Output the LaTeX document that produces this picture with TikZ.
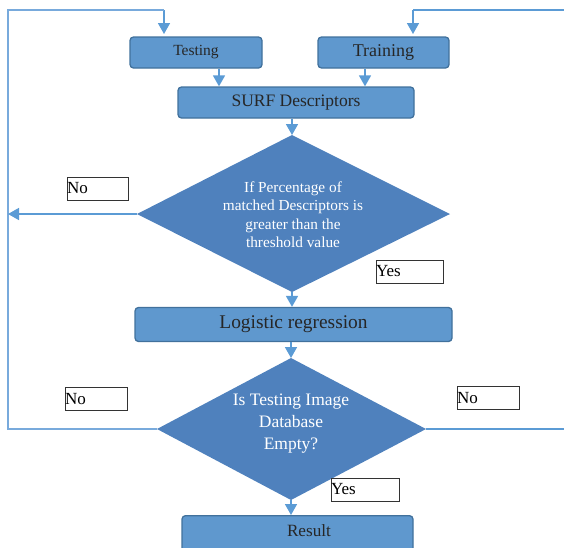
\documentclass[tikz,border=0pt]{standalone}
\usepackage{fontspec}
\setmainfont{Liberation Serif}
\usetikzlibrary{shapes.geometric,arrows.meta}
\definecolor{boxfill}{RGB}{95,152,206}
\definecolor{boxedge}{RGB}{65,113,156}
\definecolor{decfill}{RGB}{79,129,189}
\definecolor{flow}{RGB}{91,155,213}
\definecolor{loop}{RGB}{120,170,220}
\tikzset{
  procbox/.style={draw=boxedge, line width=1.3pt, fill=boxfill, rounded corners=3.5pt,
    inner sep=0pt, text=black!85},
  decision/.style={fill=decfill, draw=none, text=white, align=center},
  tag/.style={draw=black!80, line width=0.8pt, fill=white, inner sep=0pt,
    minimum height=23pt, text width=60pt, align=left, font=\fontsize{17}{17}\selectfont},
  flowline/.style={draw=flow, line width=1.6pt},
  flowarrow/.style={flowline, -{Triangle[width=12pt,length=11pt]}},
}
\begin{document}
\begin{tikzpicture}[x=1pt,y=-1pt]
\useasboundingbox (0,0) rectangle (564,547);
% process boxes
\node[procbox, minimum width=132pt, minimum height=31pt, font=\fontsize{15.5}{15.5}\selectfont] (test) at (196,52.5) {Testing};
\node[procbox, minimum width=131pt, minimum height=31pt, font=\fontsize{18}{18}\selectfont] (train) at (383.5,52.5) {Training};
\node[procbox, minimum width=236pt, minimum height=31pt, font=\fontsize{17.5}{17.5}\selectfont] (surf) at (296,102.5) {SURF Descriptors};
\node[procbox, minimum width=317pt, minimum height=34pt, font=\fontsize{19.4}{19.4}\selectfont] (logit) at (293.5,324.5) {Logistic regression};
\node[procbox, minimum width=231pt, minimum height=36pt, anchor=north] (res) at (297.5,515) {};
\node[font=\fontsize{17.2}{17.2}\selectfont, text=black!85] (restxt) at (309,530.5) {Result};
% decision diamonds
\path[decision] (292,135) -- (450,214) -- (292,292) -- (137,214) -- cycle;
\node[decision, font=\fontsize{15.3}{18.5}\selectfont] (dec1) at (293,214.5) {If Percentage of\\matched Descriptors is\\greater than the\\threshold value};
\coordinate (d1t) at (292,135);
\coordinate (d1l) at (137,214);
\coordinate (d1b) at (292,292);
\path[decision] (291,358) -- (426,429) -- (291,500) -- (157,429) -- cycle;
\node[decision, font=\fontsize{17.5}{22}\selectfont] (dec2) at (291,424) {Is Testing Image\\Database\\Empty?};
\coordinate (d2t) at (291,358);
\coordinate (d2l) at (157,429);
\coordinate (d2r) at (426,429);
\coordinate (d2b) at (291,500);
% loop-back corners
\coordinate (lb) at (8,429);
\coordinate (lt) at (8,10);
\coordinate (ltop) at (164,10);
\coordinate (lmid) at (8,214);
\coordinate (rr) at (564,429);
\coordinate (rtop) at (564,10);
\coordinate (rdown) at (413,10);
% connectors
\draw[flowarrow] (ltop) -- (164,34);
\draw[flowarrow] (rdown) -- (413,34);
\draw[draw=loop, line width=1.5pt] (d2l) -- (lb) -- (lt) -- (ltop);
\draw[flowline] (rtop) -- (rdown);
\draw[flowline] (d2r) -- (rr);
\draw[flowarrow] (test.south -| 219,0) -- (surf.north -| 219,0);
\draw[flowarrow] (train.south -| 365,0) -- (surf.north -| 365,0);
\draw[flowarrow] (surf.south -| d1t) -- (d1t);
\draw[flowarrow] (d1l) -- (lmid);
\draw[flowarrow] (d1b) -- (logit.north -| d1b);
\draw[flowarrow] (logit.south -| d2t) -- (d2t);
\draw[flowarrow] (d2b) -- (res.north -| d2b);
% branch labels
\node[tag, minimum width=61pt, text width=61pt] (no1) at (97.5,188.5) {No};
\node[tag, minimum width=67pt, text width=67pt] (yes1) at (409.5,271.5) {Yes};
\node[tag, minimum width=62pt, text width=62pt] (no2) at (96,399) {No};
\node[tag, minimum width=62pt, text width=62pt] (no3) at (488,398) {No};
\node[tag, minimum width=68pt, text width=68pt] (yes2) at (365,489.5) {Yes};
\end{tikzpicture}
\end{document}
